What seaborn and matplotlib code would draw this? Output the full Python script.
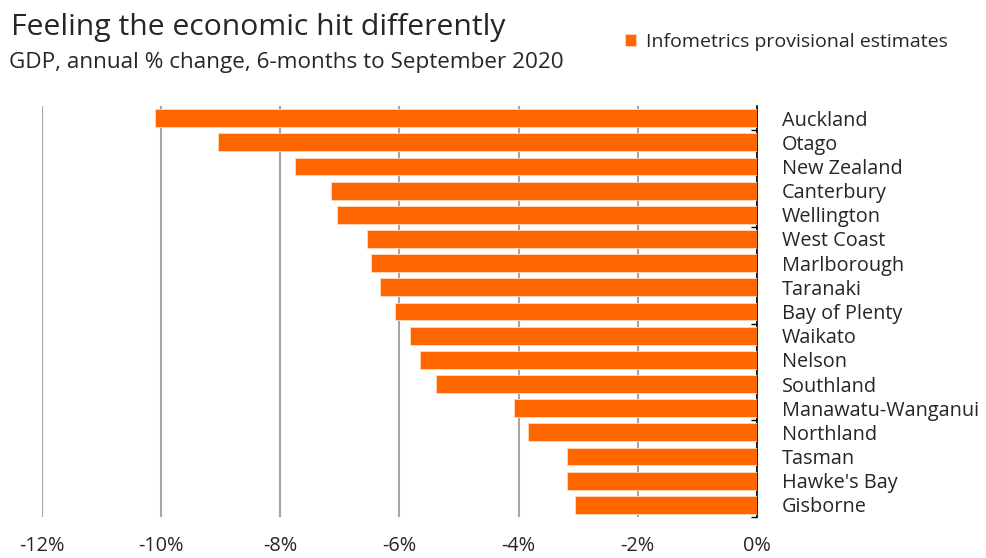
import matplotlib
matplotlib.use("Agg")
import matplotlib.pyplot as plt
import matplotlib.ticker as mticker
import seaborn as sns
import pandas as pd

regions = ["Auckland", "Otago", "New Zealand", "Canterbury", "Wellington",
           "West Coast", "Marlborough", "Taranaki", "Bay of Plenty", "Waikato",
           "Nelson", "Southland", "Manawatu-Wanganui", "Northland", "Tasman",
           "Hawke's Bay", "Gisborne"]
gdp_change = [-10.1, -9.05, -7.75, -7.15, -7.05, -6.55, -6.48, -6.32, -6.08,
              -5.82, -5.65, -5.38, -4.08, -3.85, -3.18, -3.18, -3.05]
x_ticks = [-12, -10, -8, -6, -4, -2, 0]
series_label = "Infometrics provisional estimates"

sns.set_theme(style="white")
plt.rcParams["font.family"] = ["Open Sans", "DejaVu Sans"]

df = pd.DataFrame({"region": regions, "change": gdp_change})

fig = plt.figure(figsize=(9.86, 5.58), dpi=100)
ax = fig.add_axes([0.0426, 0.0735, 0.7251, 0.7365])

orange = "#FF6600"
text_col = "#262626"
sns.barplot(data=df, x="change", y="region", orient="h", color=orange,
            saturation=1, width=0.74, edgecolor="#FFD9BF", linewidth=0.6,
            label=series_label, ax=ax, zorder=3)

ax.set_xlim(-12, 0)
ax.set_ylim(len(regions) - 0.5, -0.5)
ax.set_xticks(x_ticks)
ax.xaxis.set_major_formatter(mticker.FuncFormatter(lambda v, p: f"{v:.0f}%"))
ax.grid(axis="x", color="#A6A6A6", linewidth=1.5, zorder=0)
ax.grid(axis="y", visible=False)

for side in ["top", "bottom", "left"]:
    ax.spines[side].set_visible(False)
ax.spines["right"].set_color("#000000")
ax.spines["right"].set_linewidth(1.2)

ax.set_xlabel("")
ax.set_ylabel("")

# category labels on the right of the zero line
ax.yaxis.tick_right()
ax.tick_params(axis="y", which="major", length=0, pad=18, labelsize=14.3,
               labelcolor=text_col)
ax.tick_params(axis="x", which="major", length=0, pad=14, labelsize=14.3,
               labelcolor=text_col)
for lbl in ax.get_yticklabels():
    lbl.set_horizontalalignment("left")

# small marks on the axis line every four categories
ax.set_yticks([0.5, 4.5, 8.5, 12.5, 16.5], minor=True)
ax.tick_params(axis="y", which="minor", direction="in", length=4,
               width=1, color="#000000", right=True, left=False)

# title, subtitle and legend
fig.text(0.011, 1 - 35 / 558, "Feeling the economic hit differently",
         fontsize=21.7, color=text_col, va="baseline", ha="left")
fig.text(0.009, 1 - 68 / 558, "GDP, annual % change, 6-months to September 2020",
         fontsize=16.2, color=text_col, va="baseline", ha="left")

leg = ax.legend(loc="center left", bbox_to_anchor=(0.634, 1 - 42 / 558),
                bbox_transform=fig.transFigure, frameon=False, fontsize=14,
                handlelength=0.55, handleheight=0.55, handletextpad=0.5,
                borderaxespad=0, borderpad=0)
for t in leg.get_texts():
    t.set_color(text_col)

fig.savefig("out.png", dpi=100)
